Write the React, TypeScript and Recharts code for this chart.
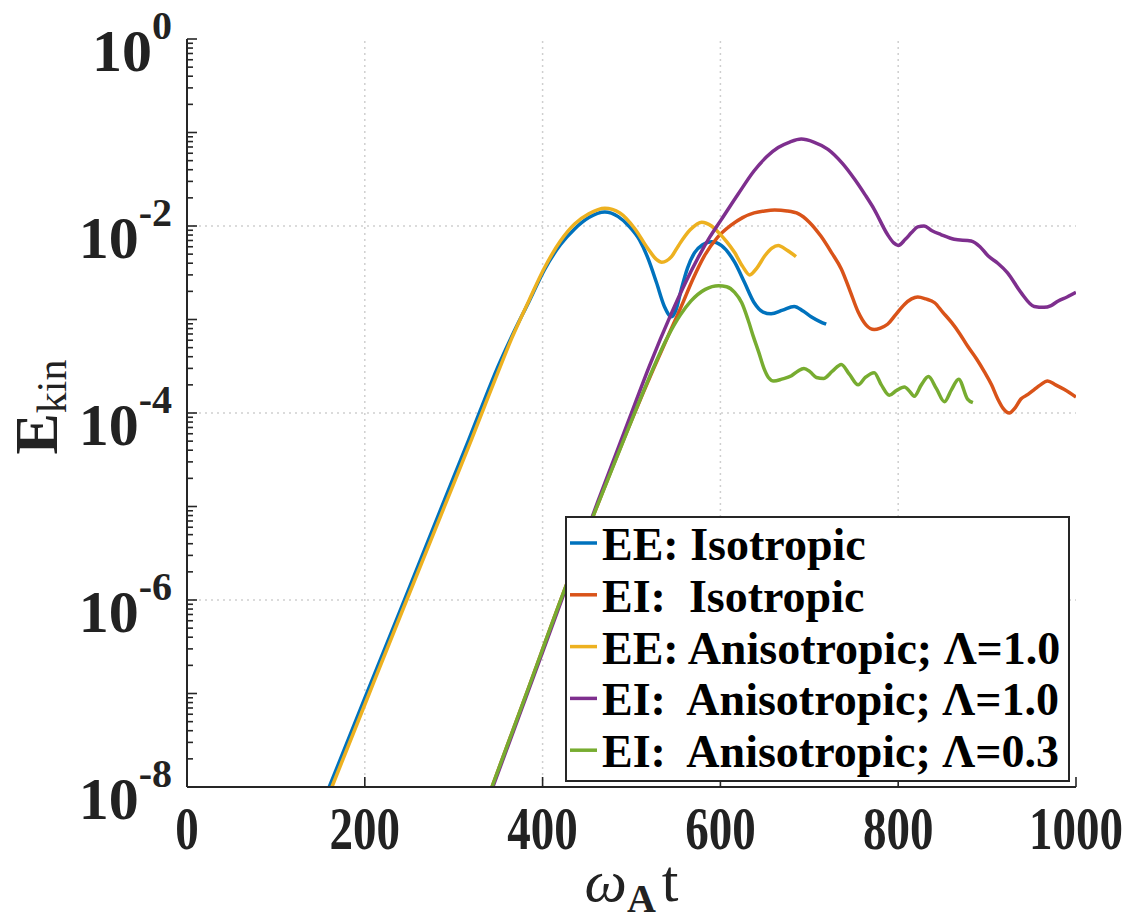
import { LineChart, Line, XAxis, YAxis, ReferenceLine, Legend } from 'recharts';

// omega_A t values and E_kin values, one pair of arrays per run
const tEEIso = [160, 200, 242, 290, 317, 330, 350, 365, 385, 402, 420, 436, 452, 470, 485, 497, 509, 519, 528, 537, 545, 550, 556, 563, 571, 580, 590, 601, 616, 627, 638, 648, 657, 670, 683, 693, 702, 712, 719];
const eEEIso = [1e-8, 8.9e-8, 8.7e-7, 1.2e-5, 5.2e-5, 1.07e-4, 3.16e-4, 6.5e-4, 1.58e-3, 3.4e-3, 6.3e-3, 9.3e-3, 1.23e-2, 1.41e-2, 1.26e-2, 1.0e-2, 7.1e-3, 4.4e-3, 2.5e-3, 1.38e-3, 1.07e-3, 1.26e-3, 2.1e-3, 3.55e-3, 5.2e-3, 6.3e-3, 6.8e-3, 6.2e-3, 4.1e-3, 2.5e-3, 1.51e-3, 1.2e-3, 1.15e-3, 1.26e-3, 1.38e-3, 1.23e-3, 1.07e-3, 9.5e-4, 8.9e-4];

const tEIIso = [343, 383, 422, 462, 500, 525, 541, 556, 569, 582, 597, 612, 625, 638, 650, 661, 675, 688, 700, 713, 725, 736, 746, 755, 764, 773, 780, 788, 797, 807, 815, 822, 831, 841, 850, 860, 869, 878, 888, 897, 905, 912, 918, 925, 931, 938, 946, 953, 960, 968, 977, 987, 1000];
const eEIIso = [1e-8, 1.07e-7, 1.1e-6, 1.05e-5, 8.3e-5, 3.0e-4, 6.6e-4, 1.38e-3, 2.7e-3, 4.8e-3, 7.6e-3, 1.02e-2, 1.23e-2, 1.38e-2, 1.45e-2, 1.48e-2, 1.45e-2, 1.35e-2, 1.1e-2, 7.8e-3, 5.2e-3, 3.47e-3, 2.0e-3, 1.2e-3, 8.7e-4, 7.8e-4, 8.1e-4, 8.9e-4, 1.12e-3, 1.45e-3, 1.66e-3, 1.74e-3, 1.66e-3, 1.51e-3, 1.2e-3, 9.3e-4, 7.1e-4, 5.2e-4, 3.8e-4, 2.75e-4, 2.0e-4, 1.41e-4, 1.12e-4, 1.0e-4, 1.12e-4, 1.41e-4, 1.58e-4, 1.78e-4, 2.0e-4, 2.2e-4, 2.0e-4, 1.78e-4, 1.48e-4];

const tEEAniso = [163, 205, 245, 290, 320, 335, 350, 365, 385, 402, 420, 436, 452, 470, 487, 504, 518, 528, 534, 545, 553, 566, 579, 590, 598, 607, 616, 625, 633, 641, 650, 658, 665, 675, 685];
const eEEAniso = [1e-8, 1e-7, 8.9e-7, 1.02e-5, 5.2e-5, 1.2e-4, 2.75e-4, 6.2e-4, 1.62e-3, 3.55e-3, 6.9e-3, 1.05e-2, 1.35e-2, 1.55e-2, 1.38e-2, 9.3e-3, 5.8e-3, 4.4e-3, 4.1e-3, 4.7e-3, 6.2e-3, 9.1e-3, 1.1e-2, 1.0e-2, 8.5e-3, 6.8e-3, 5.2e-3, 3.7e-3, 3.0e-3, 3.55e-3, 4.8e-3, 5.8e-3, 6.2e-3, 5.5e-3, 4.7e-3];

const tEIAniso10 = [344, 384, 423, 462, 498, 520, 545, 560, 575, 588, 601, 620, 638, 652, 665, 678, 691, 705, 721, 737, 751, 763, 773, 788, 795, 800, 808, 815, 822, 829, 838, 848, 863, 882, 892, 901, 912, 923, 938, 953, 964, 972, 980, 990, 1000];
const eEIAniso10 = [1e-8, 1.07e-7, 1.1e-6, 1.12e-5, 8.9e-5, 3.16e-4, 1.17e-3, 2.4e-3, 4.6e-3, 7.6e-3, 1.17e-2, 2.2e-2, 3.9e-2, 5.5e-2, 6.9e-2, 7.9e-2, 8.5e-2, 7.9e-2, 6.6e-2, 4.7e-2, 3.16e-2, 2.14e-2, 1.51e-2, 8.1e-3, 6.6e-3, 6.2e-3, 7.2e-3, 8.5e-3, 9.8e-3, 1.0e-2, 8.9e-3, 8.1e-3, 7.2e-3, 6.9e-3, 6.0e-3, 4.8e-3, 4.0e-3, 3.16e-3, 1.95e-3, 1.38e-3, 1.35e-3, 1.41e-3, 1.58e-3, 1.74e-3, 1.95e-3];

const tEIAniso03 = [343, 383, 422, 462, 500, 520, 541, 555, 567, 583, 598, 607, 616, 624, 631, 637, 643, 649, 654, 660, 669, 680, 687, 694, 701, 708, 716, 726, 736, 745, 755, 763, 773, 781, 790, 798, 807, 813, 818, 826, 834, 843, 852, 860, 868, 878, 884];
const eEIAniso03 = [1e-8, 1.07e-7, 1.1e-6, 1.05e-5, 8.3e-5, 2.4e-4, 6.6e-4, 1.12e-3, 1.58e-3, 2.1e-3, 2.3e-3, 2.24e-3, 1.95e-3, 1.51e-3, 1.0e-3, 6.6e-4, 4.5e-4, 3.0e-4, 2.4e-4, 2.2e-4, 2.3e-4, 2.5e-4, 2.8e-4, 3.0e-4, 2.75e-4, 2.4e-4, 2.34e-4, 2.8e-4, 3.3e-4, 2.6e-4, 2.0e-4, 2.4e-4, 2.7e-4, 2.0e-4, 1.55e-4, 1.74e-4, 1.9e-4, 1.7e-4, 1.51e-4, 2.0e-4, 2.45e-4, 1.82e-4, 1.32e-4, 1.78e-4, 2.3e-4, 1.41e-4, 1.29e-4];

const seriesNames = ['EE: Isotropic', 'EI:  Isotropic', 'EE: Anisotropic; \u039B=1.0', 'EI:  Anisotropic; \u039B=1.0', 'EI:  Anisotropic; \u039B=0.3'];
const seriesColors = ['#0072BD', '#D95319', '#EDB120', '#7E2F8E', '#77AC30'];

const xTicks = [0, 200, 400, 600, 800, 1000];
const xGrid = [200, 400, 600, 800];
const yGrid = [1e-2, 1e-4, 1e-6];
const decadeExps = [-8, -7, -6, -5, -4, -3, -2, -1, 0];
const minorMults = [2, 3, 4, 5, 6, 7, 8, 9];
// frame ticks are drawn on a log10 axis: decades plus the 2..9 minor ticks
const frameTicks = decadeExps.flatMap((e) => (e === 0 ? [0] : [e, ...minorMults.map((m) => e + Math.log10(m))]));

const toPoints = (ts: number[], es: number[]) => ts.map((t, i) => ({ t, E: es[i] }));

const series = [
  toPoints(tEEIso, eEEIso),
  toPoints(tEIIso, eEIIso),
  toPoints(tEEAniso, eEEAniso),
  toPoints(tEIAniso10, eEIAniso10),
  toPoints(tEIAniso03, eEIAniso03),
];

const FONT = '"Liberation Serif", "Times New Roman", serif';
const AXIS = '#262626';

const isDecade = (v: number) => Math.abs(v - Math.round(v)) < 1e-9;

const LeftTick = (props: any) => {
  const { x, y, payload } = props;
  const v = payload.value;
  const major = isDecade(v);
  const e = Math.round(v);
  return (
    <g>
      <line x1={x} x2={x + (major ? 10 : 6)} y1={y} y2={y} stroke={AXIS} strokeWidth={1.6} />
      {major && e % 2 === 0 && (
        <text x={x - 15} y={y + 32} textAnchor="end" fontFamily={FONT} fontWeight="bold" fontSize={60} fill="#222">
          10
          <tspan dy={-32} fontSize={40}>{e === 0 ? '0' : '-' + Math.abs(e)}</tspan>
        </text>
      )}
    </g>
  );
};

const RightTick = (props: any) => {
  const { x, y, payload } = props;
  const len = isDecade(payload.value) ? 10 : 6;
  return <line x1={x} x2={x - len} y1={y} y2={y} stroke={AXIS} strokeWidth={1.6} />;
};

const BottomTick = (props: any) => {
  const { x, y, payload } = props;
  const s = String(payload.value);
  const w = s.length * 23.5;
  // the last label is kept inside the picture, as in the reference
  const cx = Math.min(x, 1126 - w / 2);
  return (
    <g>
      <line x1={x} x2={x} y1={y} y2={y - 10} stroke={AXIS} strokeWidth={1.6} />
      <text
        x={cx}
        y={y + 62}
        textAnchor="middle"
        fontFamily={FONT}
        fontWeight="bold"
        fontSize={61}
        fill="#222"
        textLength={w}
        lengthAdjust="spacingAndGlyphs"
      >
        {s}
      </text>
    </g>
  );
};

const TopTick = (props: any) => {
  const { x, y } = props;
  return <line x1={x} x2={x} y1={y} y2={y + 10} stroke={AXIS} strokeWidth={1.6} />;
};

const YLabel = (props: any) => {
  const { viewBox } = props;
  const cx = viewBox.x + 57;
  const cy = viewBox.y + viewBox.height / 2 - 6;
  return (
    <text x={cx} y={cy} transform={`rotate(-90 ${cx} ${cy})`} textAnchor="middle" fontFamily={FONT} fontWeight="bold" fontSize={62} fill="#222">
      E<tspan fontSize={42} fontWeight="normal" dy={9}>kin</tspan>
    </text>
  );
};

const XLabel = (props: any) => {
  const { viewBox } = props;
  const cx = viewBox.x + viewBox.width / 2;
  const cy = viewBox.y + 114;
  return (
    <text x={cx} y={cy} textAnchor="middle" fontFamily={FONT} fontSize={60} fill="#222">
      <tspan fontStyle="italic">{'\u03C9'}</tspan>
      <tspan fontSize={40} fontWeight="bold" dy={11}>A</tspan>
      <tspan dy={-11} dx={6}>t</tspan>
    </text>
  );
};

const LegendBox = () => (
  <svg width={505} height={266}>
    <rect x={1} y={1} width={503} height={264} fill="#fff" stroke={AXIS} strokeWidth={2} />
    {seriesNames.map((name, i) => (
      <g key={name}>
        <line x1={5} x2={32} y1={27 + i * 51.8} y2={27 + i * 51.8} stroke={seriesColors[i]} strokeWidth={3.5} />
        <text x={37} y={44 + i * 51.8} fontFamily={FONT} fontWeight="bold" fontSize={46} fill="#000" style={{ whiteSpace: 'pre' }}>
          {name}
        </text>
      </g>
    ))}
  </svg>
);

export default function App() {
  return (
    <div style={{ width: 1133, height: 923, background: '#fff' }}>
      <style>{'body{margin:0}'}</style>
      <LineChart width={1133} height={923} margin={{ top: 39, right: 57, bottom: 0, left: 0 }}>
        <XAxis
          xAxisId="b"
          dataKey="t"
          type="number"
          domain={[0, 1000]}
          ticks={xTicks}
          interval={0}
          allowDataOverflow
          height={136}
          tickSize={0}
          tickMargin={0}
          tickLine={false}
          tick={<BottomTick />}
          axisLine={{ stroke: AXIS, strokeWidth: 2 }}
          label={<XLabel />}
        />
        <XAxis
          xAxisId="t"
          orientation="top"
          dataKey="t"
          type="number"
          domain={[0, 1000]}
          ticks={xTicks}
          interval={0}
          allowDataOverflow
          height={0}
          tickSize={0}
          tickMargin={0}
          tickLine={false}
          tick={<TopTick />}
          axisLine={{ stroke: AXIS, strokeWidth: 2 }}
        />
        {/* log scale that places the data; the visible frame axes below use log10 units */}
        <YAxis yAxisId="l" type="number" scale="log" domain={[1e-8, 1]} allowDataOverflow hide width={0} />
        <YAxis
          yAxisId="m"
          type="number"
          domain={[-8, 0]}
          ticks={frameTicks}
          interval={0}
          allowDataOverflow
          width={187}
          tickSize={0}
          tickMargin={0}
          tickLine={false}
          tick={<LeftTick />}
          axisLine={{ stroke: AXIS, strokeWidth: 2 }}
          label={<YLabel />}
        />
        <YAxis
          yAxisId="r"
          orientation="right"
          type="number"
          domain={[-8, 0]}
          ticks={frameTicks}
          interval={0}
          allowDataOverflow
          width={0}
          tickSize={0}
          tickMargin={0}
          tickLine={false}
          tick={<RightTick />}
          axisLine={{ stroke: AXIS, strokeWidth: 2 }}
        />
        {xGrid.map((v) => (
          <ReferenceLine key={'gx' + v} x={v} xAxisId="b" yAxisId="l" stroke="#cfcfcf" strokeWidth={1.5} strokeDasharray="2 4" />
        ))}
        {yGrid.map((v) => (
          <ReferenceLine key={'gy' + v} y={v} xAxisId="b" yAxisId="l" stroke="#cfcfcf" strokeWidth={1.5} strokeDasharray="2 4" />
        ))}
        {series.map((d, i) => (
          <Line
            key={seriesNames[i]}
            data={d}
            dataKey="E"
            name={seriesNames[i]}
            xAxisId="b"
            yAxisId="l"
            type="monotone"
            stroke={seriesColors[i]}
            strokeWidth={3.5}
            dot={false}
            activeDot={false}
            isAnimationActive={false}
          />
        ))}
        <Legend
          layout="vertical"
          align="center"
          verticalAlign="middle"
          content={<LegendBox />}
          wrapperStyle={{ left: 565, top: 516, width: 505, height: 266 }}
        />
      </LineChart>
    </div>
  );
}
